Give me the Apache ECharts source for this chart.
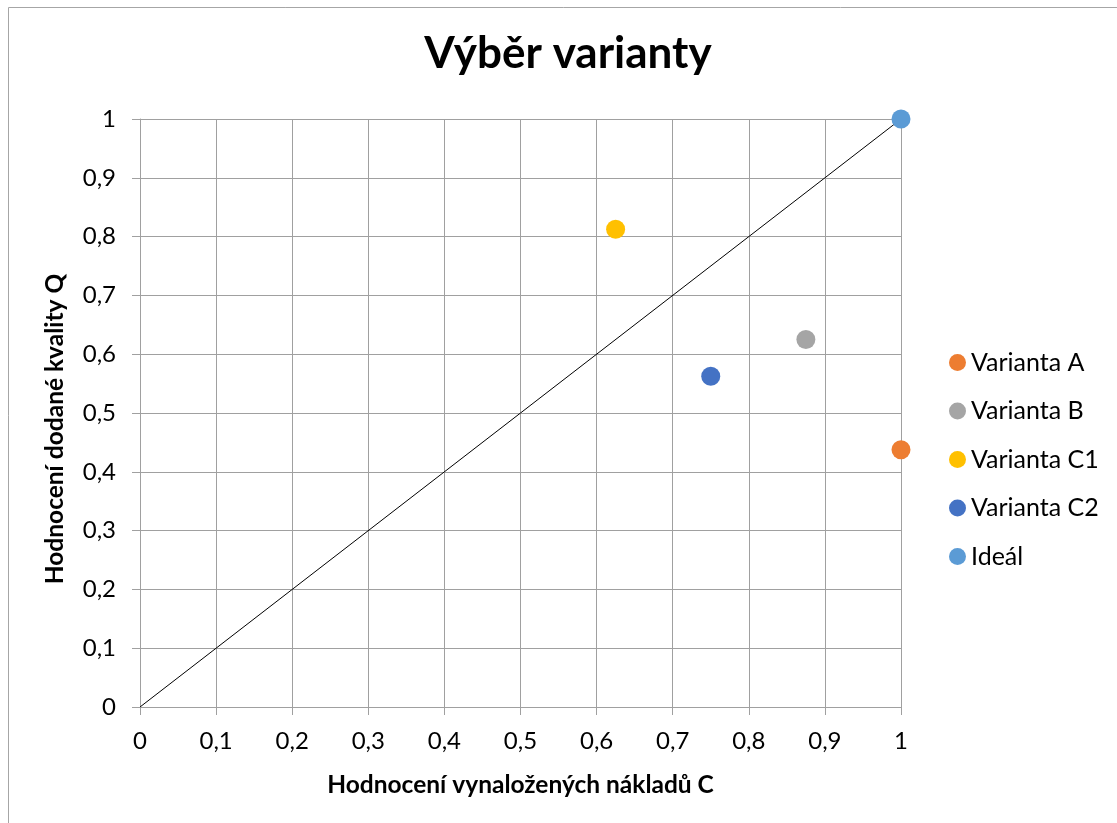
<!DOCTYPE html>
<html>
<head>
<meta charset="utf-8">
<script src="https://cdn.jsdelivr.net/npm/echarts@6/dist/echarts.min.js"></script>
<style>
html,body{margin:0;padding:0;background:#fff;}
#chart{width:1117px;height:823px;}
</style>
</head>
<body>
<div id="chart"></div>
<script>
var seriesNames = ['Varianta A', 'Varianta B', 'Varianta C1', 'Varianta C2', 'Ideál'];
var costValues = [1, 0.875, 0.625, 0.75, 1];          // x: Hodnocení vynaložených nákladů C
var qualityValues = [0.4375, 0.625, 0.8125, 0.5625, 1]; // y: Hodnocení dodané kvality Q
var seriesColors = ['#ED7D31', '#A5A5A5', '#FFC000', '#4472C4', '#5B9BD5'];
var diagonalLine = [[0, 0], [1, 1]];
var titleText = 'Výběr varianty';
var xAxisName = 'Hodnocení vynaložených nákladů C';
var yAxisName = 'Hodnocení dodané kvality Q';

var FONT = 'Lato';
function fmt(v) { return String(Math.round(v * 10) / 10).replace('.', ','); }

var series = seriesNames.map(function (n, i) {
  return {
    name: n,
    type: 'scatter',
    symbol: 'circle',
    symbolSize: 19,
    itemStyle: { color: seriesColors[i], opacity: 1 },
    data: [[costValues[i], qualityValues[i]]],
    z: 5
  };
});
series.unshift({
  name: 'diag',
  type: 'line',
  data: diagonalLine,
  showSymbol: false,
  symbol: 'none',
  lineStyle: { color: '#000', width: 1 },
  silent: true,
  z: 3
});

var gridColor = '#a0a0a0';
var chart = echarts.init(document.getElementById('chart'));
chart.setOption({
  backgroundColor: '#fff',
  animation: false,
  title: {
    text: titleText,
    left: 563,
    textAlign: 'center',
    top: 27,
    textStyle: { fontFamily: FONT, fontWeight: 'bold', fontSize: 44, color: '#000' }
  },
  graphic: [{
    type: 'rect',
    shape: { x: 8.5, y: 7.5, width: 1300, height: 1000 },
    style: { fill: null, stroke: '#a6a6a6', lineWidth: 1 },
    silent: true,
    z: -10
  }],
  legend: {
    data: seriesNames,
    orient: 'vertical',
    left: 949,
    top: 350,
    padding: 0,
    itemWidth: 17,
    itemHeight: 17,
    itemGap: 23.5,
    icon: 'circle',
    textStyle: { fontFamily: FONT, fontSize: 25, color: '#000', lineHeight: 24 }
  },
  grid: { left: 140, right: 216, top: 119, bottom: 116, containLabel: false },
  xAxis: {
    type: 'value', min: 0, max: 1, interval: 0.1,
    name: xAxisName, nameLocation: 'middle', nameGap: 66,
    nameTextStyle: { fontFamily: FONT, fontWeight: 'bold', fontSize: 24.5, color: '#000' },
    axisLine: { show: true, lineStyle: { color: gridColor, width: 1 } },
    axisTick: { show: true, length: 8, lineStyle: { color: gridColor } },
    axisLabel: { margin: 22, formatter: fmt, fontFamily: FONT, fontSize: 24, color: '#000' },
    splitLine: { show: true, lineStyle: { color: gridColor, width: 1 } }
  },
  yAxis: {
    type: 'value', min: 0, max: 1, interval: 0.1,
    name: yAxisName, nameLocation: 'middle', nameGap: 72, nameRotate: 90,
    nameTextStyle: { fontFamily: FONT, fontWeight: 'bold', fontSize: 24.5, color: '#000', padding: [0, 32, 0, 0] },
    axisLine: { show: true, lineStyle: { color: gridColor, width: 1 } },
    axisTick: { show: true, length: 8, lineStyle: { color: gridColor } },
    axisLabel: { margin: 24, formatter: fmt, fontFamily: FONT, fontSize: 24, color: '#000' },
    splitLine: { show: true, lineStyle: { color: gridColor, width: 1 } }
  },
  series: series
});
</script>
</body>
</html>
